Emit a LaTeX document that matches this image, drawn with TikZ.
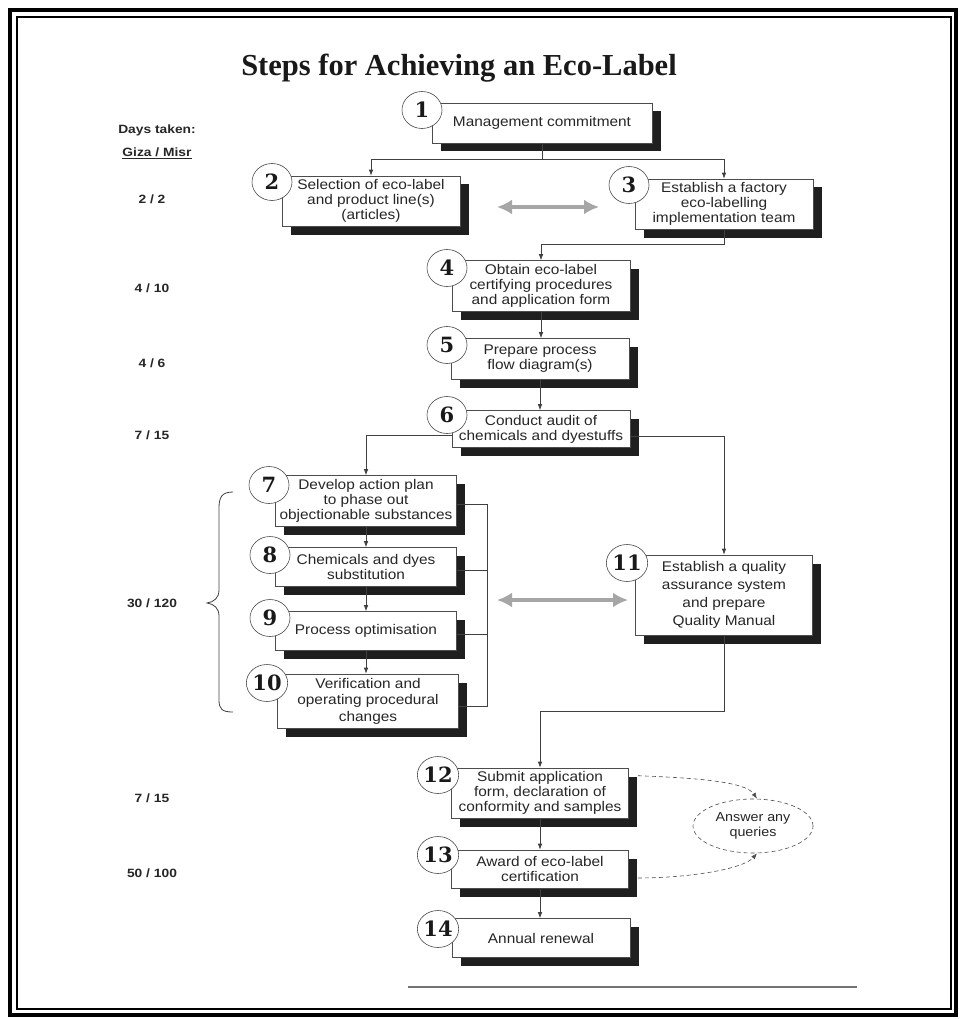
\documentclass[tikz,border=0pt]{standalone}
\usepackage{fontspec}
\setmainfont{Liberation Sans}
\newfontfamily\boxfont[FakeStretch=1.1]{Liberation Sans}
\newfontfamily\daysfont[FakeStretch=1.15]{Liberation Sans}
\newfontfamily\numfont{DejaVu Serif}
\newfontfamily\titlefont{Liberation Serif}
\usetikzlibrary{arrows.meta,shapes.geometric,shadows}

\tikzset{
    stepbox/.style = {draw = black!70, line width = 0.6pt, fill = white, align = center, inner sep = 1pt,
        text = black!85, font = \boxfont\fontsize{14}{15}\selectfont,
        drop shadow = {shadow xshift = 8.5pt, shadow yshift = -8.5pt, fill = black!88, opacity = 1}},
    stepnum/.style = {ellipse, draw = black!70, line width = 0.6pt, fill = white, inner sep = 0pt,
        minimum width = 40pt, minimum height = 37pt, text = black!90,
        font = \numfont\bfseries\fontsize{21}{21}\selectfont},
    days/.style = {anchor = base, text = black!85, font = \daysfont\bfseries\fontsize{12}{14}\selectfont},
    link/.style = {draw = black!75, line width = 0.7pt},
    flow/.style = {link, -{Latex[length = 6pt, width = 4.5pt]}},
    trade/.style = {draw = black!35, line width = 4.5pt,
        {Latex[length = 15pt, width = 15pt]}-{Latex[length = 15pt, width = 15pt]}},
    query/.style = {draw = black!70, line width = 0.6pt, dash pattern = on 4pt off 3pt,
        -{Latex[length = 6pt, width = 4.5pt]}}
}

\begin{document}
\begin{tikzpicture}[x = 1pt, y = -1pt]
            \useasboundingbox (0,0) rectangle (960,1019);
            \draw[line width = 3.5pt] (10,10) rectangle (956,1015);
            \draw[line width = 1.4pt] (17,17) rectangle (951,1009);
            \node[anchor = base, text = black!90, font = \titlefont\bfseries\fontsize{30.5}{32}\selectfont] (title) at (459,76) {Steps for Achieving an Eco-Label};
            \begin{scope}[every node/.append style = {days}]
                \node (daystaken) at (157,134) {Days taken:};
                \node (sites) at (157,157) {\underline{Giza / Misr}};
                \node (d2) at (152,204) {2 / 2};
                \node (d4) at (152,292) {4 / 10};
                \node (d5) at (152,367) {4 / 6};
                \node (d6) at (152,439) {7 / 15};
                \node (d7) at (152,607) {30 / 120};
                \node (d12) at (152,802) {7 / 15};
                \node (d13) at (152,877) {50 / 100};
            \end{scope}
            \node[stepbox, minimum width = 220, minimum height = 40] (b1) at (542,123) {Management commitment};
            \node[stepbox, minimum width = 178, minimum height = 50] (b2) at (371,201) {Selection of eco-label\\and product line(s)\\(articles)};
            \node[stepbox, minimum width = 178, minimum height = 50] (b3) at (724,204) {Establish a factory\\eco-labelling\\implementation team};
            \node[stepbox, minimum width = 178, minimum height = 51] (b4) at (541,286) {Obtain eco-label\\certifying procedures\\and application form};
            \node[stepbox, minimum width = 178, minimum height = 41] (b5) at (540,359) {Prepare process\\flow diagram(s)};
            \node[stepbox, minimum width = 178, minimum height = 37] (b6) at (541,429) {Conduct audit of\\chemicals and dyestuffs};
            \node[stepbox, minimum width = 181, minimum height = 51] (b7) at (366,501) {Develop action plan\\to phase out\\objectionable substances};
            \node[stepbox, minimum width = 181, minimum height = 39] (b8) at (366,567) {Chemicals and dyes\\substitution};
            \node[stepbox, minimum width = 181, minimum height = 39] (b9) at (366,631) {Process optimisation};
            \node[stepbox, minimum width = 181, minimum height = 54, font = \boxfont\fontsize{14}{16.5}\selectfont] (b10) at (368,701) {Verification and\\operating procedural\\changes};
            \node[stepbox, minimum width = 177, minimum height = 80, font = \boxfont\fontsize{14}{18}\selectfont] (b11) at (724,595) {Establish a quality\\assurance system\\and prepare\\Quality Manual};
            \node[stepbox, minimum width = 177, minimum height = 50] (b12) at (540,793) {Submit application\\form, declaration of\\conformity and samples};
            \node[stepbox, minimum width = 177, minimum height = 38] (b13) at (540,869) {Award of eco-label\\certification};
            \node[stepbox, minimum width = 178, minimum height = 39] (b14) at (541,938) {Annual renewal};
            \node[stepnum] (n1) at (422,110) {1};
            \node[stepnum] (n2) at (272,182) {2};
            \node[stepnum] (n3) at (629,185) {3};
            \node[stepnum] (n4) at (447,268) {4};
            \node[stepnum] (n5) at (447,345) {5};
            \node[stepnum] (n6) at (447,415) {6};
            \node[stepnum] (n7) at (269,485) {7};
            \node[stepnum] (n8) at (270,555) {8};
            \node[stepnum] (n9) at (270,618) {9};
            \node[stepnum] (n10) at (267,683) {10};
            \node[stepnum] (n11) at (627,563) {11};
            \node[stepnum] (n12) at (438,775) {12};
            \node[stepnum] (n13) at (438,855) {13};
            \node[stepnum] (n14) at (438,929) {14};
            \node[ellipse, draw = black!70, line width = 0.6pt, dash pattern = on 4pt off 3pt, minimum width = 120, minimum height = 54,
                inner sep = 0pt, align = center, text = black!85, font = \boxfont\fontsize{13}{15}\selectfont] (ans) at (753,826) {Answer any\\queries};
            \draw[flow] (b1.south) -- ++(0,16) -| (b2.north);
            \draw[flow] (b1.south) -- ++(0,16) -| (b3.north);
            \draw[flow] (b3.south) -- ++(0,15) -| (b4.north);
            \draw[flow] (b4.south) -- (b4.south |- b5.north);
            \draw[flow] (b5.south) -- (b5.south |- b6.north);
            \draw[flow] ([yshift = -6pt]b6.west) -| (b7.north);
            \draw[flow] ([yshift = -7pt]b6.east) -| (b11.north);
            \draw[flow] (b7.south) -- (b7.south |- b8.north);
            \draw[flow] (b8.south) -- (b8.south |- b9.north);
            \draw[flow] (b9.south) -- (b9.south |- b10.north);
            \coordinate (bus) at (487,0);
            \draw[link] ([yshift = -3pt]b7.east) -- ([yshift = -3pt]b7.east -| bus) -- ([yshift = -5pt]b10.east -| bus) -- ([yshift = -5pt]b10.east);
            \draw[link] ([yshift = -3pt]b8.east) -- ([yshift = -3pt]b8.east -| bus);
            \draw[link] ([yshift = -3pt]b9.east) -- ([yshift = -3pt]b9.east -| bus);
            \coordinate (t1a) at (497,207);
            \coordinate (t1b) at (599,207);
            \coordinate (t2a) at (497,600);
            \coordinate (t2b) at (628,600);
            \draw[trade] (t1a) -- (t1b);
            \draw[trade] (t2a) -- (t2b);
            \draw[flow] (b11.south) -- ++(0,76) -| (b12.north);
            \draw[flow] (b12.south) -- (b12.south |- b13.north);
            \draw[flow] (b13.south) -- (b13.south |- b14.north);
            \draw[query] ([shift = {(9pt,-8pt)}]b12.north east) .. controls +(50,2) and +(-12,-18) .. ([xshift = 4pt]ans.north);
            \draw[query] ([shift = {(9pt,-9pt)}]b13.east) .. controls +(50,0) and +(-14,16) .. ([xshift = 4pt]ans.south);
            \draw[link, line width = 0.8pt] (233,492) .. controls (222,492) and (219,497) .. (219,508) -- (219,590)
                .. controls (219,598) and (214,602) .. (207,603) .. controls (214,604) and (219,608) .. (219,616)
                -- (219,700) .. controls (219,709) and (222,712) .. (233,712);
            \draw[draw = black!55, line width = 1.2pt] (408,987) -- (857,987);
        \end{tikzpicture}
\end{document}
